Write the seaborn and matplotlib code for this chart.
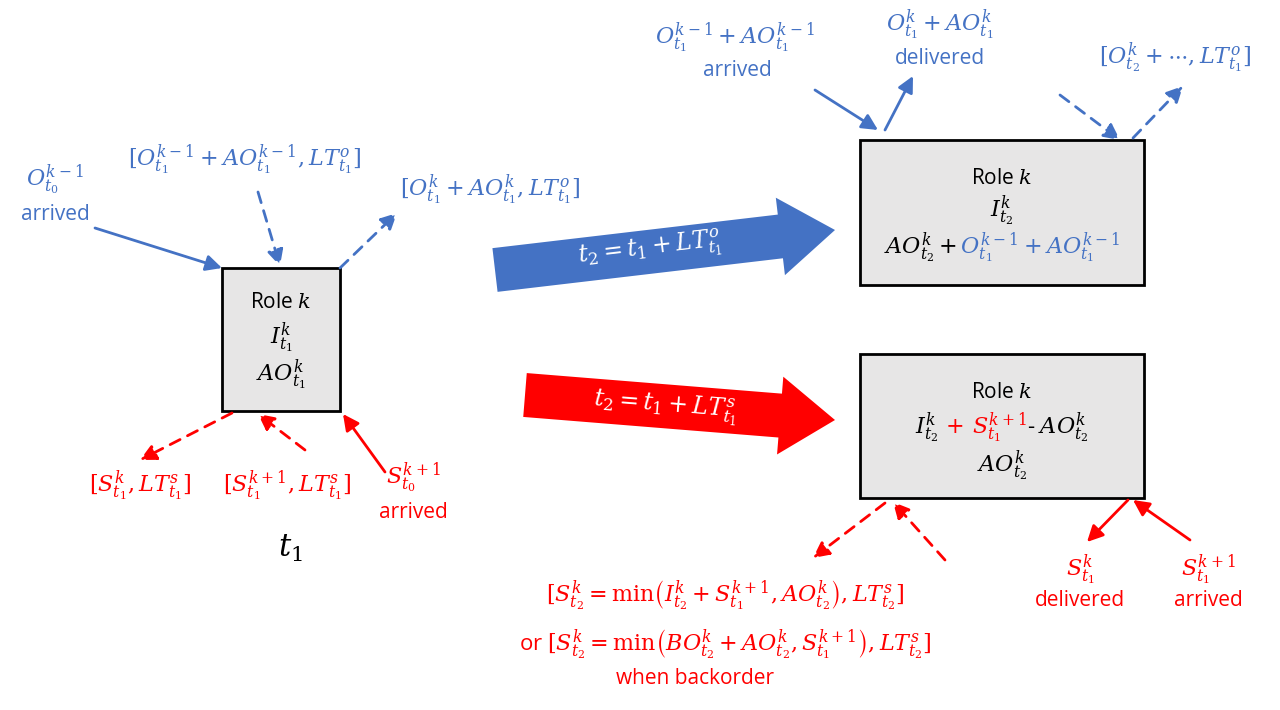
import matplotlib.pyplot as plt
import seaborn as sns
from matplotlib.patches import Rectangle, FancyArrow

sns.set_theme(style="white")
plt.rcParams['font.family'] = ['Open Sans', 'DejaVu Sans']
plt.rcParams['mathtext.fontset'] = 'dejavuserif'

BLUE = '#4472C4'
RED = '#FF0000'
GRAY = '#E7E6E6'

# boxes: (x, y, w, h) in pixel space, y downward
boxes = [(222, 268, 118, 143), (860, 140, 284, 145), (860, 354, 284, 144)]

# small arrows: (x0, y0, x1, y1, colour, dashed)
arrows = [
    (95, 228, 222, 268, BLUE, False),
    (258, 192, 280, 266, BLUE, True),
    (340, 268, 397, 213, BLUE, True),
    (232, 413, 140, 460, RED, True),
    (305, 450, 258, 414, RED, True),
    (385, 472, 343, 414, RED, False),
    (815, 90, 878, 130, BLUE, False),
    (885, 130, 913, 76, BLUE, False),
    (1060, 95, 1120, 140, BLUE, True),
    (1133, 138, 1183, 86, BLUE, True),
    (885, 503, 813, 558, RED, True),
    (945, 560, 893, 502, RED, True),
    (1128, 500, 1087, 542, RED, False),
    (1190, 540, 1133, 500, RED, False),
]

# labels: (x, y, text, colour, size)
labels = [
    (55, 180, r'$O_{t_0}^{k-1}$', BLUE, 16),
    (55, 215, 'arrived', BLUE, 15),
    (245, 160, r'$[O_{t_1}^{k-1}+AO_{t_1}^{k-1},LT_{t_1}^{o}]$', BLUE, 16),
    (490, 190, r'$[O_{t_1}^{k}+AO_{t_1}^{k},LT_{t_1}^{o}]$', BLUE, 16),
    (140, 486, r'$[S_{t_1}^{k},LT_{t_1}^{s}]$', RED, 16),
    (287, 486, r'$[S_{t_1}^{k+1},LT_{t_1}^{s}]$', RED, 16),
    (413, 478, r'$S_{t_0}^{k+1}$', RED, 16),
    (413, 512, 'arrived', RED, 15),
    (290, 548, r'$t_1$', 'black', 22),
    (735, 38, r'$O_{t_1}^{k-1}+AO_{t_1}^{k-1}$', BLUE, 16),
    (737, 70, 'arrived', BLUE, 15),
    (940, 25, r'$O_{t_1}^{k}+AO_{t_1}^{k}$', BLUE, 16),
    (940, 59, 'delivered', BLUE, 15),
    (1175, 58, r'$[O_{t_2}^{k}+\cdots,LT_{t_1}^{o}]$', BLUE, 16),
    (1080, 570, r'$S_{t_1}^{k}$', RED, 16),
    (1080, 601, 'delivered', RED, 15),
    (1208, 570, r'$S_{t_1}^{k+1}$', RED, 16),
    (1208, 601, 'arrived', RED, 15),
    (725, 596, r'$[S_{t_2}^{k}=\mathrm{min}\left(I_{t_2}^{k}+S_{t_1}^{k+1},AO_{t_2}^{k}\right),LT_{t_2}^{s}]$', RED, 16),
    (725, 645, r'or $[S_{t_2}^{k}=\mathrm{min}\left(BO_{t_2}^{k}+AO_{t_2}^{k},S_{t_1}^{k+1}\right),LT_{t_2}^{s}]$', RED, 16),
    (695, 678, 'when backorder', RED, 15),
    (281, 303, 'Role $k$', 'black', 15),
    (281, 338, r'$I_{t_1}^{k}$', 'black', 16),
    (281, 375, r'$AO_{t_1}^{k}$', 'black', 16),
    (1002, 178, 'Role $k$', 'black', 15),
    (1002, 211, r'$I_{t_2}^{k}$', 'black', 16),
    (1002, 392, 'Role $k$', 'black', 15),
    (1002, 466, r'$AO_{t_2}^{k}$', 'black', 16),
]

# multi-colour lines: (x_centre, y, [(text, colour), ...])
mixed = [
    (1002, 248, [(r'$AO_{t_2}^{k}+$', 'black'), (r'$\,O_{t_1}^{k-1}+AO_{t_1}^{k-1}$', BLUE)]),
    (1002, 428, [(r'$I_{t_2}^{k}$', 'black'), (r'$\,+\,S_{t_1}^{k+1}$', RED), (r'- $AO_{t_2}^{k}$', 'black')]),
]

# big arrows: (x0, y0, x1, y1, colour, text, angle)
big_arrows = [
    (495, 270, 835, 230, BLUE, r'$t_2=t_1+LT_{t_1}^{o}$', 6.7),
    (525, 395, 835, 420, RED, r'$t_2=t_1+LT_{t_1}^{s}$', -4.6),
]

fig = plt.figure(figsize=(12.8, 7.1), dpi=100)
ax = fig.add_axes([0, 0, 1, 1])
ax.set_xlim(0, 1280)
ax.set_ylim(710, 0)
ax.axis('off')

for x, y, w, h in boxes:
    ax.add_patch(Rectangle((x, y), w, h, facecolor=GRAY, edgecolor='black', lw=2))

for x0, y0, x1, y1, c, dashed in arrows:
    ax.annotate('', xy=(x1, y1), xytext=(x0, y0),
                arrowprops=dict(arrowstyle='-|>,head_length=0.8,head_width=0.4', color=c, lw=2,
                                linestyle=(0, (4, 3)) if dashed else '-', shrinkA=0, shrinkB=0))

for x0, y0, x1, y1, c, txt, ang in big_arrows:
    ax.add_patch(FancyArrow(x0, y0, x1 - x0, y1 - y0, width=44, head_width=78, head_length=55,
                            length_includes_head=True, color=c, lw=0))
    ax.text((x0 + x1) / 2 - 15, (y0 + y1) / 2, txt, color='white', fontsize=17,
            ha='center', va='center', rotation=ang)

for x, y, t, c, s in labels:
    ax.text(x, y, t, color=c, fontsize=s, ha='center', va='center')

fig.canvas.draw()
r = fig.canvas.get_renderer()
for xc, y, parts in mixed:
    objs = [ax.text(0, y, t, color=c, fontsize=16, ha='left', va='center') for t, c in parts]
    widths = [o.get_window_extent(r).width for o in objs]
    x = xc - sum(widths) / 2
    for o, w in zip(objs, widths):
        o.set_x(x)
        x += w

fig.savefig('out.png', dpi=100)
